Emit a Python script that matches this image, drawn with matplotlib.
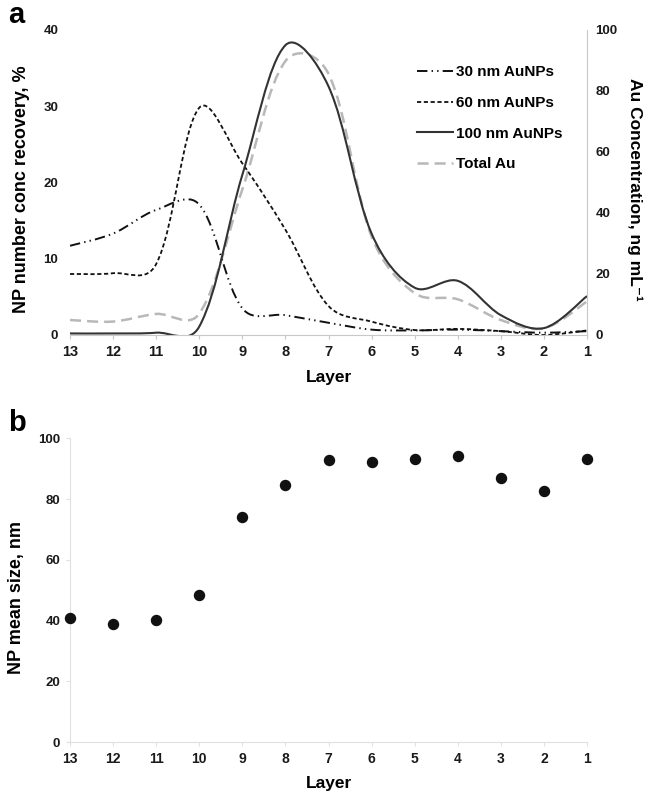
import numpy as np
import matplotlib
matplotlib.use("Agg")
import matplotlib.pyplot as plt
from matplotlib.path import Path
from matplotlib.patches import PathPatch
from matplotlib.lines import Line2D

plt.rcParams['font.family'] = ['Liberation Sans', 'DejaVu Sans']
plt.rcParams['font.weight'] = 'bold'
plt.rcParams['lines.scale_dashes'] = False

layers = [13, 12, 11, 10, 9, 8, 7, 6, 5, 4, 3, 2, 1]
np30 = [11.7, 13.3, 16.4, 17.1, 3.5, 2.6, 1.6, 0.7, 0.6, 0.7, 0.5, 0.3, 0.5]
np60 = [8.0, 8.1, 9.3, 29.8, 22.5, 13.8, 3.8, 1.75, 0.65, 0.8, 0.5, 0.0, 0.6]
np100 = [0.2, 0.2, 0.3, 1.1, 21.0, 38.0, 32.6, 13.3, 6.2, 7.1, 2.6, 0.9, 5.1]
total_au = [4.9, 4.4, 6.9, 7.0, 47.7, 89.8, 85.6, 32.3, 13.7, 11.7, 4.9, 2.2, 11.0]
mean_size = [41.0, 39.0, 40.2, 48.5, 74.2, 84.6, 92.9, 92.1, 93.2, 94.1, 87.0, 82.7, 93.1]

left_ticks = [0, 10, 20, 30, 40]
right_ticks = [0, 20, 40, 60, 80, 100]
size_ticks = [0, 20, 40, 60, 80, 100]


def smooth_path(x, y, ax, blend=0.5):
    """Excel-like smoothed line: cubic Bezier segments whose control arms mix
    uniform Catmull-Rom arms with chord-length weighted arms (display space)."""
    data = np.column_stack([np.asarray(x, float), np.asarray(y, float)])
    trans = ax.transData
    pts = trans.transform(data)
    n = len(pts)
    verts = [pts[0]]
    codes = [Path.MOVETO]
    for i in range(n - 1):
        p1 = pts[i]
        p2 = pts[i + 1]
        p0 = pts[i - 1] if i > 0 else p1
        p3 = pts[i + 2] if i + 2 < n else p2
        L01 = np.hypot(*(p1 - p0))
        L12 = np.hypot(*(p2 - p1))
        L23 = np.hypot(*(p3 - p2))
        d1 = p2 - p0
        d2 = p3 - p1
        w1 = L12 / (L01 + L12) / 3.0 if (L01 + L12) > 0 else 1 / 6.0
        w2 = L12 / (L12 + L23) / 3.0 if (L12 + L23) > 0 else 1 / 6.0
        if i == 0:
            w1 = 1 / 6.0
        if i + 2 >= n:
            w2 = 1 / 6.0
        w1 = blend * w1 + (1 - blend) / 6.0
        w2 = blend * w2 + (1 - blend) / 6.0
        c1 = p1 + d1 * w1
        c2 = p2 - d2 * w2
        verts += [c1, c2, p2]
        codes += [Path.CURVE4] * 3
    verts = trans.inverted().transform(np.array(verts))
    return Path(verts, codes)


fig = plt.figure(figsize=(6.58, 8.01), dpi=100)

grey = '#c8c8c8'
tickc = '#1a1a1a'

# ---------------- panel a ----------------
ax = fig.add_axes([0.1064, 0.5818, 0.7857, 0.3808])
ax2 = ax.twinx()
ax.set_xlim(13, 1)
ax.set_ylim(0, 40)
ax2.set_ylim(0, 100)

ls30 = (0, (7.5, 3.0, 1.0, 3.0, 1.0, 3.0))
ls60 = (0, (3.0, 1.9))
lstot = (0, (8.0, 4.3))
c30, c60, c100, ctot = '#111111', '#111111', '#333333', '#b8b8b8'

ax2.add_patch(PathPatch(smooth_path(layers, total_au, ax2), facecolor='none',
                        edgecolor=ctot, linewidth=1.8, linestyle=lstot))
ax.add_patch(PathPatch(smooth_path(layers, np30, ax), facecolor='none',
                       edgecolor=c30, linewidth=1.4, linestyle=ls30))
ax.add_patch(PathPatch(smooth_path(layers, np60, ax), facecolor='none',
                       edgecolor=c60, linewidth=1.3, linestyle=ls60))
ax.add_patch(PathPatch(smooth_path(layers, np100, ax), facecolor='none',
                       edgecolor=c100, linewidth=1.5, linestyle='-'))

ax.set_zorder(ax2.get_zorder() + 1)
ax.patch.set_visible(False)

ax.set_xticks(layers)
ax.set_xticklabels([str(l) for l in layers], fontsize=10.5, fontweight='bold')
ax.set_yticks(left_ticks)
ax.set_yticklabels([str(t) for t in left_ticks], fontsize=9.5, fontweight='bold')
ax2.set_yticks(right_ticks)
ax2.set_yticklabels([str(t) for t in right_ticks], fontsize=9.5, fontweight='bold')

for a in (ax, ax2):
    for s in ['top', 'left', 'right']:
        a.spines[s].set_visible(False)
    a.spines['bottom'].set_color(grey)
ax2.spines['right'].set_visible(True)
ax2.spines['right'].set_color(grey)
ax2.spines['bottom'].set_visible(False)
ax.tick_params(axis='x', length=3, color=grey, pad=4, labelcolor=tickc)
ax.tick_params(axis='y', length=0, pad=8.5, labelcolor=tickc)
ax2.tick_params(axis='y', length=0, pad=6, labelcolor=tickc)

ax.set_xlabel('Layer', fontsize=12.5, fontweight='bold', labelpad=8)
ax.set_ylabel('NP number conc recovery, %', fontsize=13, fontweight='bold',
              va='center', ha='center')
ax.yaxis.set_label_coords(-0.093, 0.479)
ax2.set_ylabel('Au Concentration, ng mL\u207b\u00b9', fontsize=12.5, fontweight='bold',
               rotation=270, va='center', ha='center')
ax2.yaxis.set_label_coords(1.093, 0.476)

handles = [
    Line2D([], [], color=c30, lw=1.4, linestyle=ls30),
    Line2D([], [], color=c60, lw=1.3, linestyle=ls60),
    Line2D([], [], color=c100, lw=1.5, linestyle='-'),
    Line2D([], [], color=ctot, lw=1.8, linestyle=lstot),
]
labels = ['30 nm AuNPs', '60 nm AuNPs', '100 nm AuNPs', 'Total Au']
leg = ax.legend(handles, labels, loc='upper left', bbox_to_anchor=(0.6585, 0.905),
                frameon=False, fontsize=11, handlelength=2.4, handletextpad=0.15,
                labelspacing=1.1, borderaxespad=0)
for t in leg.get_texts():
    t.set_fontweight('bold')

fig.text(0.012, 0.981, 'a', fontsize=21, fontweight='bold', va='center', ha='left')

# ---------------- panel b ----------------
bx = fig.add_axes([0.1064, 0.0733, 0.7857, 0.3795])
bx.scatter(layers, mean_size, s=52, color='#111111', zorder=3, clip_on=False)
bx.set_xlim(13, 1)
bx.set_ylim(0, 100)
bx.set_xticks(layers)
bx.set_xticklabels([str(l) for l in layers], fontsize=10, fontweight='bold')
bx.set_yticks(size_ticks)
bx.set_yticklabels([str(t) for t in size_ticks], fontsize=9.5, fontweight='bold')
for s in ['top', 'right']:
    bx.spines[s].set_visible(False)
for s in ['left', 'bottom']:
    bx.spines[s].set_color('#e0e0e0')
bx.tick_params(axis='both', length=3, color='#e0e0e0', labelcolor=tickc)
bx.tick_params(axis='x', pad=4)
bx.tick_params(axis='y', pad=4)
bx.set_xlabel('Layer', fontsize=12.5, fontweight='bold', labelpad=7)
bx.set_ylabel('NP mean size, nm', fontsize=13, fontweight='bold', va='center', ha='center')
bx.yaxis.set_label_coords(-0.103, 0.475)

fig.text(0.012, 0.472, 'b', fontsize=21, fontweight='bold', va='center', ha='left')

fig.savefig('out.png', dpi=100)
